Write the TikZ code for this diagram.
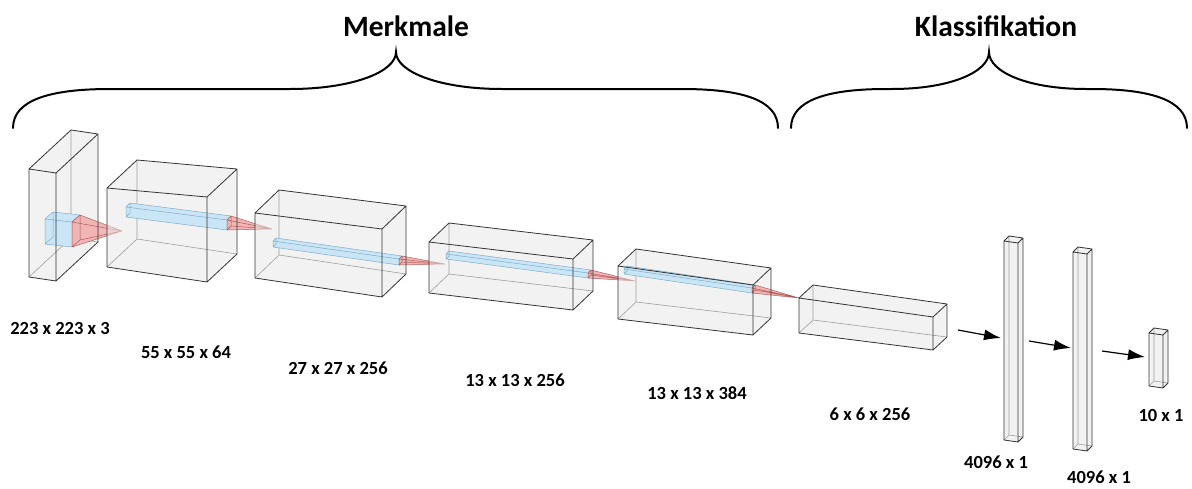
\documentclass[tikz,border=0pt]{standalone}
\usepackage{fontspec}
\setmainfont{Carlito}
\usetikzlibrary{calc,arrows.meta}

\definecolor{kernelblue}{RGB}{202,230,246}
\definecolor{kernelline}{RGB}{125,172,200}
\definecolor{conered}{RGB}{243,176,176}
\definecolor{coneline}{RGB}{165,75,75}

\tikzset{
  volfill/.style={fill=black!9, fill opacity=0.55, draw=none},
  volvis/.style={draw=black!80, line width=0.8pt, line join=round},
  volhid/.style={draw=black!38, line width=0.6pt},
  kernelfill/.style={fill=kernelblue, draw=none},
  kernelvis/.style={draw=kernelline, line width=0.5pt, line join=round},
  conefill/.style={fill=conered, fill opacity=0.92, draw=none},
  conevis/.style={draw=coneline, draw opacity=0.85, line width=0.5pt, line join=round},
  lbl/.style={font=\fontsize{18.5}{20}\selectfont\bfseries, inner sep=0pt},
  ttl/.style={font=\fontsize{29.5}{32}\selectfont\bfseries, inner sep=0pt},
  bracket/.style={draw=black, line width=2pt, line cap=round},
  flow/.style={draw=black, line width=1.2pt, -{Latex[length=17pt,width=11pt]}},
}

% corners of a volume: front TL, TR, BR, BL, then the depth offset
\newcommand\volcorners[6]{%
  \coordinate (#1-a) at #2; \coordinate (#1-b) at #3;
  \coordinate (#1-c) at #4; \coordinate (#1-d) at #5;
  \coordinate (#1-e) at ($(#1-a)+#6$); \coordinate (#1-f) at ($(#1-b)+#6$);
  \coordinate (#1-g) at ($(#1-c)+#6$); \coordinate (#1-h) at ($(#1-d)+#6$);
}
% translucent body and hidden edges
\newcommand\drawvolrear[1]{%
  \path[volfill] (#1-a) -- (#1-e) -- (#1-f) -- (#1-g) -- (#1-c) -- (#1-d) -- cycle;
  \draw[volhid] (#1-e) -- (#1-h) -- (#1-g) (#1-h) -- (#1-d);
}
% visible edges
\newcommand\drawvolfront[1]{%
  \draw[volvis] (#1-a) -- (#1-b) -- (#1-c) -- (#1-d) -- cycle
    (#1-a) -- (#1-e) -- (#1-f) -- (#1-b) (#1-f) -- (#1-g) -- (#1-c);
}
% kernel prism: name, left front top, right front top, height, depth offset
\newcommand\kernelprism[5]{%
  \coordinate (#1-a) at #2; \coordinate (#1-b) at #3;
  \coordinate (#1-c) at ($(#1-b)+(0,#4)$); \coordinate (#1-d) at ($(#1-a)+(0,#4)$);
  \coordinate (#1-e) at ($(#1-a)+#5$); \coordinate (#1-f) at ($(#1-b)+#5$);
  \coordinate (#1-g) at ($(#1-c)+#5$); \coordinate (#1-h) at ($(#1-d)+#5$);
  \path[kernelfill] (#1-a) -- (#1-e) -- (#1-f) -- (#1-g) -- (#1-c) -- (#1-d) -- cycle;
  \draw[kernelvis] (#1-a) -- (#1-b) -- (#1-c) -- (#1-d) -- cycle
    (#1-a) -- (#1-e) -- (#1-f) -- (#1-b) (#1-f) -- (#1-g) -- (#1-c)
    (#1-e) -- (#1-h) -- (#1-d);
}
% projection cone from the right face of a kernel to an apex
\newcommand\projcone[2]{%
  \coordinate (#1-p) at #2;
  \path[conefill] (#1-b) -- (#1-f) -- (#1-p) -- (#1-c) -- cycle;
  \draw[conevis] (#1-b) -- (#1-f) -- (#1-g) -- (#1-c) -- cycle
    (#1-b) -- (#1-p) (#1-f) -- (#1-p) (#1-g) -- (#1-p) (#1-c) -- (#1-p);
}

\begin{document}
\begin{tikzpicture}[x=1pt,y=-1pt]
\useasboundingbox (0,0) rectangle (1192,488);

% braces and headings
\draw[bracket] (13,128) .. controls (13,100) and (50,89) .. (110,89) -- (290,89)
  .. controls (352,89) and (396,72) .. (396,52)
  .. controls (396,72) and (440,89) .. (502,89) -- (682,89)
  .. controls (742,89) and (778,100) .. (778,128);
\draw[bracket] (791,128) .. controls (791,100) and (828,89) .. (886,89) -- (892,89)
  .. controls (950,89) and (989,72) .. (989,52)
  .. controls (989,72) and (1028,89) .. (1086,89) -- (1092,89)
  .. controls (1150,89) and (1187,100) .. (1187,128);
\node[ttl] (hfeat) at (406,26) {Merkmale};
\node[ttl] (hclass) at (996,26) {Klassifikation};

% feature volumes
\volcorners{v1}{(29,169)}{(56,173)}{(56,281)}{(29,277)}{(42,-39)}
\volcorners{v2}{(107,188)}{(207,197)}{(207,282)}{(107,267)}{(30,-28)}
\volcorners{v3}{(255,213)}{(382,229)}{(382,297)}{(255,278)}{(24,-23)}
\volcorners{v4}{(429,242)}{(573,259)}{(573,310)}{(429,293)}{(20,-19)}
\volcorners{v5}{(618,266)}{(753,285)}{(753,335)}{(618,319)}{(18,-17)}
\volcorners{v6}{(799,298)}{(933,317)}{(933,350)}{(799,333)}{(14,-13)}

\drawvolrear{v1}
\kernelprism{k1}{(45,219)}{(72,222)}{25}{(8,-7)}
\projcone{k1}{(122,231)}
\drawvolfront{v1}

\drawvolrear{v2}
\kernelprism{k2}{(126,207)}{(227,220)}{10}{(4,-4)}
\projcone{k2}{(272,229)}
\drawvolfront{v2}

\drawvolrear{v3}
\kernelprism{k3}{(273,241)}{(399,259)}{6}{(3,-3)}
\projcone{k3}{(445,264)}
\drawvolfront{v3}

\drawvolrear{v4}
\kernelprism{k4}{(446,254)}{(588,273)}{5}{(3,-3)}
\projcone{k4}{(635,281)}
\drawvolfront{v4}

\drawvolrear{v5}
\kernelprism{k5}{(624,269)}{(752,288)}{5}{(3,-3)}
\projcone{k5}{(799,298)}
\drawvolfront{v5}

\drawvolrear{v6}
\drawvolfront{v6}

% fully connected layers
\volcorners{c1}{(1004,241)}{(1018,243)}{(1018,442)}{(1004,440)}{(5,-5)}
\volcorners{c2}{(1073,252)}{(1087,254)}{(1087,451)}{(1073,449)}{(5,-5)}
\volcorners{c3}{(1149,333)}{(1163,335)}{(1163,388)}{(1149,386)}{(5,-5)}
\foreach \c in {c1,c2,c3}{\drawvolrear{\c}\drawvolfront{\c}}

% flow arrows
\coordinate (f1s) at (958,330); \coordinate (f1e) at (1001,338);
\coordinate (f2s) at (1029,341); \coordinate (f2e) at (1071,348);
\coordinate (f3s) at (1102,351); \coordinate (f3e) at (1145,357);
\draw[flow] (f1s) -- (f1e);
\draw[flow] (f2s) -- (f2e);
\draw[flow] (f3s) -- (f3e);

% dimensions
\node[lbl] (d1) at (60,328) {223 x 223 x 3};
\node[lbl] (d2) at (186,352) {55 x 55 x 64};
\node[lbl] (d3) at (338,368) {27 x 27 x 256};
\node[lbl] (d4) at (515,380) {13 x 13 x 256};
\node[lbl] (d5) at (697,393) {13 x 13 x 384};
\node[lbl] (d6) at (870,414) {6 x 6 x 256};
\node[lbl] (d7) at (996,462) {4096 x 1};
\node[lbl] (d8) at (1099,477) {4096 x 1};
\node[lbl] (d9) at (1161,415) {10 x 1};
\end{tikzpicture}
\end{document}
